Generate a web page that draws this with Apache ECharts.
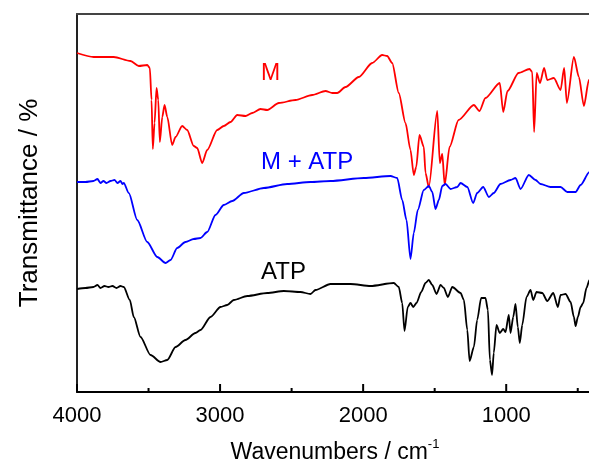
<!DOCTYPE html>
<html>
<head>
<meta charset="utf-8">
<script src="https://cdn.jsdelivr.net/npm/echarts@6/dist/echarts.min.js"></script>
<style>html,body{margin:0;padding:0;background:#fff}#c{width:589px;height:470px}</style>
</head>
<body>
<div id="c"></div>
<script>
// Axis settings (cm^-1): labelled ticks every 1000, minor ticks halfway
var xAxisMin = 0, xAxisMax = 4000;
var majorStep = 1000;
var tickValues = [4000, 3500, 3000, 2500, 2000, 1500, 1000, 500];
var tickIsMajor = [1, 0, 1, 0, 1, 0, 1, 0];
var tickLabels = ['4000', '', '3000', '', '2000', '', '1000', ''];

// M (red)
var mWn = [4000,3883,3743,3626,3568,3509,3491,3479,3470,3458,3444,3432,3421,3404,3388,3369,3335,3311,3265,3230,3184,3160,3125,3090,3020,2974,2927,2880,2822,2775,2717,2670,2589,2473,2356,2263,2216,2181,2123,2030,1937,1867,1832,1797,1751,1704,1669,1646,1629,1606,1576,1564,1541,1482,1464,1447,1430,1396,1333,1226,1187,1145,1045,1021,991,914,837,818,805,787,764,735,713,667,620,595,576,527,492,457,422,400];
var mT  = [339,335,335,331,326,327,324,292,243,269,304,292,250,275,287,275,247,255,266,262,246,244,229,242,262,266,270,277,276,279,283,282,289,292,297,301,299,299,305,315,329,337,336,329,299,269,242,217,225,257,245,219,205,281,229,238,207,245,272,287,281,294,309,280,301,319,323,320,260,319,309,324,312,314,302,324,289,335,315,286,312,320];

// M + ATP (blue)
var maWn = [4000,3941,3885,3857,3836,3815,3794,3766,3738,3717,3696,3682,3673,3638,3579,3509,3439,3381,3346,3300,3242,3184,3137,3090,3032,2974,2915,2834,2694,2531,2368,2228,1995,1809,1762,1727,1697,1669,1646,1618,1576,1541,1517,1494,1471,1447,1424,1389,1342,1319,1272,1231,1203,1161,1121,1087,1040,970,935,900,842,795,760,690,620,573,515,480,418,400];
var maT  = [210,210,211,213,209,211,209,211,212,209,211,208,209,199,172,150,135,129,132,144,150,153,154,160,177,187,191,199,204,208,210,211,214,216,214,192,172,133,159,182,202,206,200,183,192,206,208,203,205,209,205,189,199,205,195,199,208,212,214,203,217,212,208,205,205,200,200,207,220,224];

// ATP (black)
var aWn = [4000,3941,3885,3857,3836,3808,3780,3752,3724,3696,3673,3631,3603,3556,3486,3416,3369,3311,3242,3172,3137,3067,2997,2950,2904,2810,2670,2554,2438,2368,2333,2228,2088,1948,1786,1751,1727,1711,1688,1669,1650,1627,1594,1564,1541,1517,1487,1459,1436,1408,1377,1319,1296,1272,1256,1226,1203,1175,1145,1128,1114,1099,1087,1068,1045,1021,1005,982,970,951,935,919,905,888,858,830,811,788,748,713,671,639,620,585,550,527,515,499,480,462,439,418,400];
var aT  = [103,104,105,107,104,106,105,106,104,106,105,92,75,55,37,30,32,45,52,59,62,75,85,87,92,96,99,101,100,98,102,108,108,106,109,105,89,61,85,89,85,89,100,109,112,107,98,107,104,95,105,99,92,62,31,45,72,94,94,82,32,17,39,67,59,63,60,77,59,75,88,65,49,67,95,102,92,100,99,91,99,85,97,98,90,75,66,75,85,89,104,112,115];

function pairs(xs, ys) { return xs.map(function (x, i) { return [x, ys[i]]; }); }

var FONT = '"Liberation Sans", Arial, sans-serif';
var chart = echarts.init(document.getElementById('c'), null, {renderer: 'canvas'});
var lineCommon = {type: 'line', showSymbol: false, smooth: 0.25, smoothMonotone: 'x', animation: false, xAxisIndex: 0, yAxisIndex: 0};
var yMin = 0, yMax = 378;

// plot box: x=77 at 4000 cm-1, 0.14307 px per cm-1 -> 0 cm-1 lies beyond the right edge
var gridLeft = 77, gridRight = 589 - (77 + 4000 * 0.14307);

chart.setOption({
  animation: false,
  backgroundColor: '#fff',
  grid: {left: gridLeft, right: gridRight, top: 14, bottom: 78, show: false, outerBoundsMode: 'none', containLabel: false},
  xAxis: [{
    type: 'value', min: xAxisMin, max: xAxisMax, interval: majorStep, inverse: true, position: 'bottom',
    axisLine: {show: true, onZero: false, lineStyle: {color: '#000', width: 2}},
    axisTick: {show: false}, axisLabel: {show: false}, splitLine: {show: false}
  }, {
    type: 'value', min: xAxisMin, max: xAxisMax, inverse: true, position: 'top',
    axisLine: {show: true, onZero: false, lineStyle: {color: '#444', width: 2}},
    axisTick: {show: false}, axisLabel: {show: false}, splitLine: {show: false}
  }],
  yAxis: {
    type: 'value', min: yMin, max: yMax,
    axisLine: {show: true, onZero: false, lineStyle: {color: '#222', width: 2}},
    axisTick: {show: false}, axisLabel: {show: false}, splitLine: {show: false},
    name: 'Transmittance / %', nameLocation: 'middle', nameGap: 34, nameRotate: 90,
    nameTextStyle: {fontSize: 26, color: '#000', fontFamily: FONT}
  },
  series: [
    Object.assign({}, lineCommon, {name: 'M', data: pairs(mWn, mT), lineStyle: {color: '#ff0000', width: 1.8}}),
    Object.assign({}, lineCommon, {name: 'M + ATP', data: pairs(maWn, maT), lineStyle: {color: '#0000ff', width: 1.8}}),
    Object.assign({}, lineCommon, {name: 'ATP', data: pairs(aWn, aT), lineStyle: {color: '#000000', width: 1.8}}),
    {type: 'custom', silent: true, animation: false, clip: false, z: 10, xAxisIndex: 0, yAxisIndex: 0,
      data: tickValues.map(function (v, i) { return [v, yMin, tickIsMajor[i]]; }),
      renderItem: function (params, api) {
        var p = api.coord([api.value(0), api.value(1)]);
        var major = api.value(2) === 1;
        var len = major ? 8 : 4;
        var children = [{type: 'rect', shape: {x: p[0] - 1, y: p[1] - len, width: 2, height: len},
          style: {fill: '#000'}}];
        var lab = tickLabels[params.dataIndex];
        if (lab) {
          children.push({type: 'text', x: p[0], y: p[1] + 13,
            style: {text: lab, fill: '#000', fontSize: 22, fontFamily: FONT, align: 'center', verticalAlign: 'top'}});
        }
        return {type: 'group', children: children};
      }}
  ],
  graphic: [
    {type: 'text', left: 261, top: 62, style: {text: 'M', fill: '#ff0000', fontSize: 23, fontFamily: FONT}},
    {type: 'text', left: 261, top: 150, style: {text: 'M + ATP', fill: '#0000ff', fontSize: 24, fontFamily: FONT}},
    {type: 'text', left: 261, top: 260, style: {text: 'ATP', fill: '#000', fontSize: 24, fontFamily: FONT}},
    {type: 'text', x: 335, y: 438, style: {
      text: '{a|Wavenumbers / cm}{s|-1}', align: 'center', fill: '#000', fontFamily: FONT, fontSize: 23,
      rich: {a: {fontSize: 23, fontFamily: FONT, fill: '#000', lineHeight: 30},
             s: {fontSize: 13, fontFamily: FONT, fill: '#000', verticalAlign: 'top', lineHeight: 30}}}}
  ]
});
</script>
</body>
</html>
